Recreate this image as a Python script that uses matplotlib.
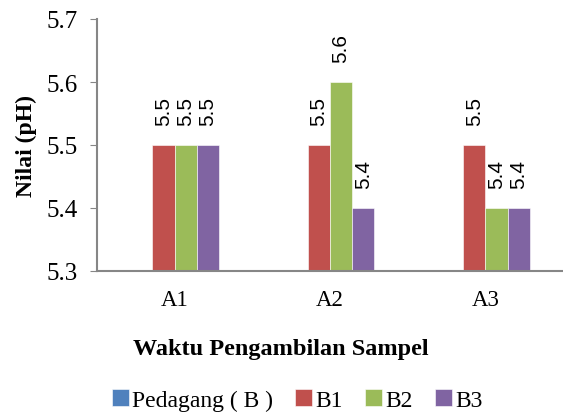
import numpy as np
import matplotlib
matplotlib.use('Agg')
import matplotlib.pyplot as plt

groups = ['A1', 'A2', 'A3']
series = ['Pedagang ( B )', 'B1', 'B2', 'B3']
pedagang = [np.nan, np.nan, np.nan]
b1 = [5.5, 5.5, 5.5]
b2 = [5.5, 5.6, 5.4]
b3 = [5.5, 5.4, 5.4]
colors = ['#4F81BD', '#C0504D', '#9BBB59', '#8064A2']

plt.rcParams['font.family'] = 'Liberation Serif'

fig = plt.figure(figsize=(5.63, 4.14), dpi=100)
ax = fig.add_axes([97 / 563, 1 - 272 / 414, 466 / 563, 252 / 414])

x = np.arange(len(groups))
w = 0.143
values = [pedagang, b1, b2, b3]
for i, (name, vals) in enumerate(zip(series, values)):
    pos = x + (i - 1.5) * w
    v = np.array(vals, dtype=float)
    ax.bar(pos, v - 5.3, w, bottom=5.3, color=colors[i], label=name,
           edgecolor='white', linewidth=0.4)
    for p, val in zip(pos, v):
        if not np.isnan(val):
            ax.text(p, val + 0.032, f'{val:.1f}', rotation=90, ha='center',
                    va='bottom', fontsize=15, family='Liberation Sans')

ax.set_xlim(-0.5, 2.5)
ax.set_ylim(5.3, 5.7)
ax.set_yticks([5.3, 5.4, 5.5, 5.6, 5.7])
ax.set_yticklabels(['5.3', '5.4', '5.5', '5.6', '5.7'])
ax.set_xticks(x)
ax.set_xticklabels(groups)
ax.tick_params(axis='y', labelsize=18, length=5, color='#868686', pad=9)
ax.tick_params(axis='x', labelsize=16.5, length=0, pad=13)
for s in ['top', 'right']:
    ax.spines[s].set_visible(False)
for s in ['left', 'bottom']:
    ax.spines[s].set_color('#868686')
    ax.spines[s].set_linewidth(1.5)

fig.text(26 / 563, 1 - 146 / 414, 'Nilai (pH)', rotation=90, ha='center', va='center',
         fontsize=17, fontweight='bold')
fig.text(281 / 563, 1 - 350 / 414, 'Waktu Pengambilan Sampel', ha='center', va='center',
         fontsize=17.5, fontweight='bold')

fig.legend(loc='center', bbox_to_anchor=(0.528, 1 - 401 / 414), ncol=4, frameon=False,
           fontsize=17, handlelength=0.72, handleheight=0.72, handletextpad=0.13,
           columnspacing=0.95, borderpad=0, borderaxespad=0)

fig.savefig('out.png', dpi=100)
